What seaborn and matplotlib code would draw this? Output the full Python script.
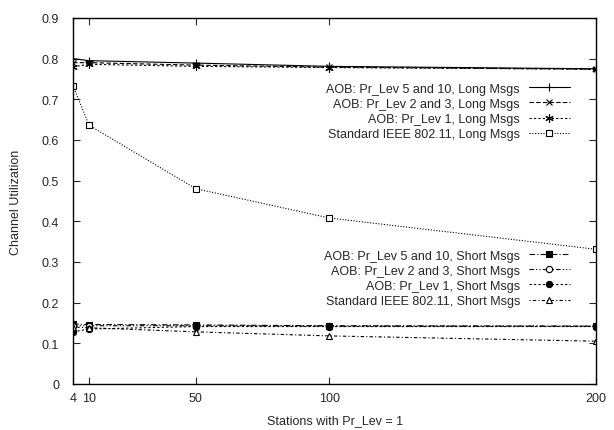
import numpy as np
import pandas as pd
import matplotlib
matplotlib.use("Agg")
import matplotlib.pyplot as plt
import seaborn as sns

stations = [4, 10, 50, 100, 200]

long_aob_5_10 = [0.800, 0.795, 0.789, 0.781, 0.775]
long_aob_2_3 = [0.790, 0.790, 0.784, 0.779, 0.774]
long_aob_1 = [0.780, 0.786, 0.781, 0.778, 0.774]
long_std = [0.733, 0.636, 0.480, 0.408, 0.331]

short_aob_5_10 = [0.147, 0.146, 0.145, 0.143, 0.142]
short_aob_2_3 = [0.143, 0.143, 0.143, 0.142, 0.142]
short_aob_1 = [0.128, 0.135, 0.141, 0.141, 0.141]
short_std = [0.140, 0.138, 0.128, 0.118, 0.105]

labels_long = [
    "AOB: Pr_Lev 5 and 10, Long Msgs",
    "AOB: Pr_Lev 2 and 3, Long Msgs",
    "AOB: Pr_Lev 1, Long Msgs",
    "Standard IEEE 802.11, Long Msgs",
]
labels_short = [
    "AOB: Pr_Lev 5 and 10, Short Msgs",
    "AOB: Pr_Lev 2 and 3, Short Msgs",
    "AOB: Pr_Lev 1, Short Msgs",
    "Standard IEEE 802.11, Short Msgs",
]

sns.set_style("ticks")
plt.rcParams["font.family"] = ["Liberation Sans", "DejaVu Sans"]
plt.rcParams["font.size"] = 9

fig = plt.figure(figsize=(6.14, 4.31), dpi=100)
ax = fig.add_axes([0.119, 0.107, 0.852, 0.849])

asterisk = (6, 2, 0)
styles_long = [
    dict(linestyle="-", marker="+", mfc="none", ms=6),
    dict(linestyle=(0, (4, 2)), marker="x", mfc="none", ms=4),
    dict(linestyle=(0, (2, 2)), marker=asterisk, mfc="none", ms=6),
    dict(linestyle=(0, (1, 1.5)), marker="s", mfc="white", ms=4.5),
]
styles_short = [
    dict(linestyle=(0, (5, 2, 1, 2)), marker="s", mfc="black", ms=4.5),
    dict(linestyle=(0, (4, 2, 1, 2, 1, 2)), marker="o", mfc="white", ms=4.5),
    dict(linestyle=(0, (2, 2)), marker="o", mfc="black", ms=4.5),
    dict(linestyle=(0, (1, 2, 3, 2)), marker="^", mfc="white", ms=4.5),
]

h_long, h_short = [], []
for vals, lab, st in zip([long_aob_5_10, long_aob_2_3, long_aob_1, long_std], labels_long, styles_long):
    sns.lineplot(x=stations, y=vals, ax=ax, color="black", lw=0.8, mew=0.8,
                 mec="black", label=lab, legend=False, **st)
    h_long.append(ax.lines[-1])
for vals, lab, st in zip([short_aob_5_10, short_aob_2_3, short_aob_1, short_std], labels_short, styles_short):
    sns.lineplot(x=stations, y=vals, ax=ax, color="black", lw=0.8, mew=0.8,
                 mec="black", label=lab, legend=False, **st)
    h_short.append(ax.lines[-1])

ax.set_xlim(4, 200)
ax.set_ylim(0, 0.9)
ax.set_xticks(stations)
ax.set_xticklabels(["4", "10", "50", "100", "200"])
ax.set_yticks(np.arange(0, 0.91, 0.1))
ax.set_yticklabels(["0"] + [f"{v:.1f}" for v in np.arange(0.1, 0.91, 0.1)])
ax.tick_params(direction="in", top=True, right=True, length=5, width=0.8)
ax.tick_params(axis="y", pad=10)
ax.tick_params(axis="x", pad=6)
for sp in ax.spines.values():
    sp.set_linewidth(1.0)
    sp.set_color("black")

ax.set_xlabel("Stations with Pr_Lev = 1", labelpad=7)
ax.set_ylabel("Channel Utilization", labelpad=14)

leg_kw = dict(frameon=False, markerfirst=False, handlelength=3.3, handletextpad=0.7,
              labelspacing=0.25, borderpad=0, borderaxespad=0, fontsize=9)
leg1 = ax.legend(h_long, labels_long, loc="upper right",
                 bbox_to_anchor=(0.950, 0.823), **leg_kw)
ax.add_artist(leg1)
ax.legend(h_short, labels_short, loc="upper right",
          bbox_to_anchor=(0.950, 0.367), **leg_kw)

fig.savefig("out.png", dpi=100)
